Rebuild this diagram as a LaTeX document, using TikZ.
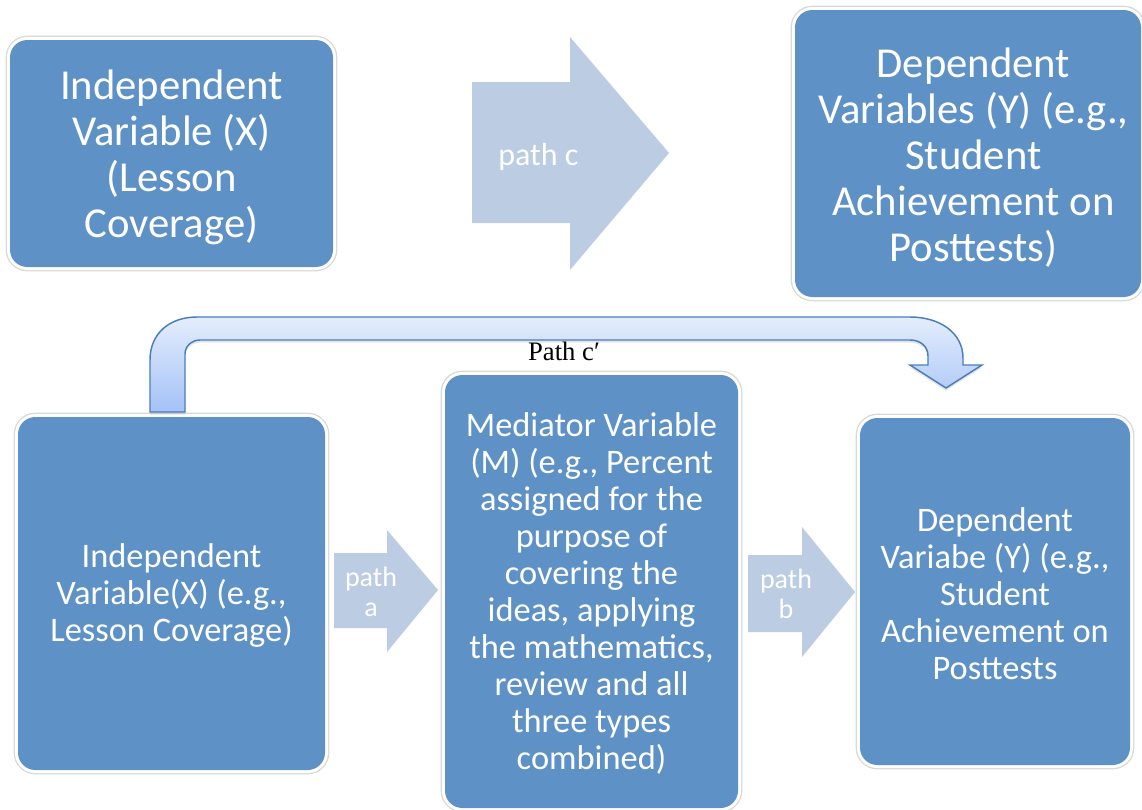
\documentclass[tikz,border=0pt]{standalone}
\usepackage{fontspec}
\setmainfont{Carlito}
\newfontfamily\pathfont{Liberation Serif}
\usetikzlibrary{fit,shadows}
\definecolor{boxblue}{RGB}{94,146,199}
\definecolor{arrowgrey}{RGB}{188,204,226}
\definecolor{bendtop}{RGB}{228,237,252}
\definecolor{bendbot}{RGB}{163,194,247}
\definecolor{bendline}{RGB}{74,126,187}
\tikzset{
  varbox/.style={inner sep=0pt, rounded corners=13pt, fill=boxblue,
    preaction={draw=black!15, line width=6.5pt}, preaction={draw=white, line width=4.5pt}},
  boxtext/.style={text=white, align=center, inner sep=0pt},
  bigtext/.style={boxtext, yshift=-3pt, font=\fontsize{32}{34.5}\selectfont},
  smalltext/.style={boxtext, yshift=-1.5pt, font=\fontsize{25.8}{27.75}\selectfont},
  blockarrow/.style={fill=arrowgrey},
  arrowtext/.style={text=white, align=center, inner sep=0pt}
}
\begin{document}
\begin{tikzpicture}[x=0.75pt,y=-0.75pt]
  \fill[white] (0,0) rectangle (1142,810);
  \useasboundingbox (0,0) rectangle (1142,810);

  % top row
  \node[varbox, fit={(10,40) (333,267)}] (indepx) {};
  \node[bigtext] (indepxtext) at (indepx.center) {Independent\\Variable (X)\\(Lesson\\Coverage)};
  \node[varbox, fit={(795,10) (1141,297)}] (depy) {};
  \node[bigtext] (depytext) at ([xshift=4pt]depy.center) {Dependent\\Variables (Y) (e.g.,\\Student\\Achievement on\\Posttests)};
  \fill[blockarrow] (472,82) -- (570,82) -- (570,37) -- (669,153) -- (570,270) -- (570,223) -- (472,223) -- cycle;
  \node[arrowtext, font=\fontsize{24}{28}\selectfont, anchor=base west] (pathc) at (498,165) {path c};

  % bottom row
  \node[varbox, fit={(18,417) (325,770)}] (indepxb) {};
  \node[smalltext] (indepxbtext) at (indepxb.center) {Independent\\Variable(X) (e.g.,\\Lesson Coverage)};
  \node[varbox, fit={(445,375) (738,808)}] (medm) {};
  \node[smalltext] (medmtext) at (medm.center) {Mediator Variable\\(M) (e.g., Percent\\assigned for the\\purpose of\\covering the\\ideas, applying\\the mathematics,\\review and all\\three types\\combined)};
  \node[varbox, fit={(860,418) (1130,765)}] (depyb) {};
  \node[smalltext] (depybtext) at (depyb.center) {Dependent\\Variabe (Y) (e.g.,\\Student\\Achievement on\\Posttests};
  \fill[blockarrow] (334,553) -- (387,553) -- (387,530) -- (438,590) -- (387,652) -- (387,628) -- (334,628) -- cycle;
  \node[arrowtext, font=\fontsize{21}{22.5}\selectfont] (patha) at (371,592) {path\\a};
  \fill[blockarrow] (748,555) -- (802,555) -- (802,527) -- (855,592) -- (802,657) -- (802,632) -- (748,632) -- cycle;
  \node[arrowtext, font=\fontsize{21}{22.5}\selectfont] (pathb) at (786,594) {path\\b};

  % bent arrow
  \path[draw=bendline, line width=1.1pt, top color=bendtop, bottom color=bendbot,
        drop shadow={opacity=0.2, shadow xshift=0pt, shadow yshift=-2pt}]
    (150,412) -- (150,360) .. controls (150,333) and (170,317) .. (197,317)
    -- (910,317) .. controls (940,317) and (963,333) .. (963,358)
    -- (963,365) -- (982,365) -- (946,388) -- (910,365) -- (928,365)
    -- (928,356) .. controls (928,346) and (920,340) .. (910,340)
    -- (200,340) .. controls (192,340) and (185,346) .. (185,354)
    -- (185,412) -- cycle;
  \node[font=\pathfont\fontsize{20}{24}\selectfont, anchor=base] (pathcp) at (564,360) {Path c′};
\end{tikzpicture}
\end{document}
